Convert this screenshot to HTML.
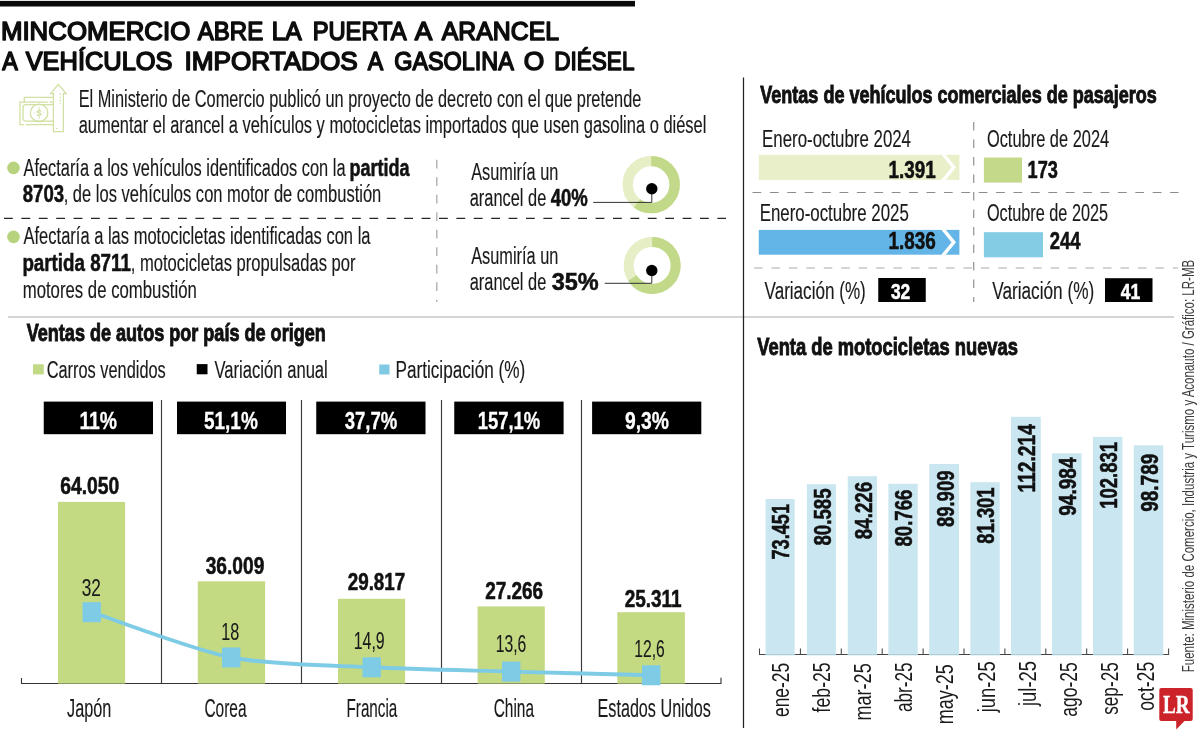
<!DOCTYPE html>
<html lang="es"><head><meta charset="utf-8"><title>Mincomercio abre la puerta a arancel</title>
<style>html,body{margin:0;padding:0;background:#fff}svg{display:block;will-change:transform;font-family:"Liberation Sans",sans-serif}</style></head>
<body>
<svg width="1200" height="737" viewBox="0 0 1200 737">
<rect width="1200" height="737" fill="#fff"/>
<rect x="0.00" y="0.90" width="635.00" height="5.60" fill="#0a0a0a"/>
<text x="0.96" y="40.00" font-size="26.52" font-weight="normal" fill="#0d0d0d" textLength="189.28" lengthAdjust="spacingAndGlyphs" stroke="#0d0d0d" stroke-width="1.6" stroke-linejoin="round" word-spacing="3.5">MINCOMERCIO</text>
<text x="197.80" y="40.00" font-size="26.52" font-weight="normal" fill="#0d0d0d" textLength="65.44" lengthAdjust="spacingAndGlyphs" stroke="#0d0d0d" stroke-width="1.6" stroke-linejoin="round" word-spacing="3.5">ABRE</text>
<text x="271.64" y="40.00" font-size="26.52" font-weight="normal" fill="#0d0d0d" textLength="30.12" lengthAdjust="spacingAndGlyphs" stroke="#0d0d0d" stroke-width="1.6" stroke-linejoin="round" word-spacing="3.5">LA</text>
<text x="312.64" y="40.00" font-size="26.52" font-weight="normal" fill="#0d0d0d" textLength="94.06" lengthAdjust="spacingAndGlyphs" stroke="#0d0d0d" stroke-width="1.6" stroke-linejoin="round" word-spacing="3.5">PUERTA</text>
<text x="414.68" y="40.00" font-size="26.52" font-weight="normal" fill="#0d0d0d" textLength="17.52" lengthAdjust="spacingAndGlyphs" stroke="#0d0d0d" stroke-width="1.6" stroke-linejoin="round" word-spacing="3.5">A</text>
<text x="441.80" y="40.00" font-size="26.52" font-weight="normal" fill="#0d0d0d" textLength="117.20" lengthAdjust="spacingAndGlyphs" stroke="#0d0d0d" stroke-width="1.6" stroke-linejoin="round" word-spacing="3.5">ARANCEL</text>
<text x="2.24" y="70.00" font-size="26.52" font-weight="normal" fill="#0d0d0d" textLength="15.52" lengthAdjust="spacingAndGlyphs" stroke="#0d0d0d" stroke-width="1.6" stroke-linejoin="round" word-spacing="3.5">A</text>
<text x="25.68" y="70.00" font-size="26.52" font-weight="normal" fill="#0d0d0d" textLength="146.88" lengthAdjust="spacingAndGlyphs" stroke="#0d0d0d" stroke-width="1.6" stroke-linejoin="round" word-spacing="3.5">VEHÍCULOS</text>
<text x="184.40" y="70.00" font-size="26.52" font-weight="normal" fill="#0d0d0d" textLength="173.40" lengthAdjust="spacingAndGlyphs" stroke="#0d0d0d" stroke-width="1.6" stroke-linejoin="round" word-spacing="3.5">IMPORTADOS</text>
<text x="367.80" y="70.00" font-size="26.52" font-weight="normal" fill="#0d0d0d" textLength="15.40" lengthAdjust="spacingAndGlyphs" stroke="#0d0d0d" stroke-width="1.6" stroke-linejoin="round" word-spacing="3.5">A</text>
<text x="394.20" y="70.00" font-size="26.52" font-weight="normal" fill="#0d0d0d" textLength="119.56" lengthAdjust="spacingAndGlyphs" stroke="#0d0d0d" stroke-width="1.6" stroke-linejoin="round" word-spacing="3.5">GASOLINA</text>
<text x="523.76" y="70.00" font-size="26.52" font-weight="normal" fill="#0d0d0d" textLength="20.48" lengthAdjust="spacingAndGlyphs" stroke="#0d0d0d" stroke-width="1.6" stroke-linejoin="round" word-spacing="3.5">O</text>
<text x="554.20" y="70.00" font-size="26.52" font-weight="normal" fill="#0d0d0d" textLength="80.24" lengthAdjust="spacingAndGlyphs" stroke="#0d0d0d" stroke-width="1.6" stroke-linejoin="round" word-spacing="3.5">DIÉSEL</text>
<g fill="none" stroke="#cfe0a1" stroke-width="1.25"><path d="M24.3 102 V97.3 H53.4"/><path d="M47.8 102 H20 V124.7 H23.8 M26.2 124.7 H53.4 M49.6 102 H53.4"/><path d="M53.4 104.7 H26 a3 3 0 0 0 -3 3 V118.2 a3 3 0 0 0 3 3 H53.4"/><circle cx="39.1" cy="112.9" r="8.7"/><path d="M53.4 131.6 V93.6 H50.7 L58.3 84.5 L66.2 93.6 H63.4 V131.6 Z"/><path d="M60.2 92.8 V104" stroke-dasharray="2.2 1.2" stroke-width="1"/><path d="M56 128.6 H57.6" stroke-width="1"/><path d="M39.1 107 V118.8" stroke-width="0.9"/><path d="M34.4 112.9 h0.9 M42.9 112.9 h0.9" stroke-width="0.9"/></g>
<text x="39.1" y="115.9" font-size="8.5" fill="#cfe0a1" text-anchor="middle" font-weight="bold">S</text>
<text x="78.70" y="107.00" font-size="23.91" font-weight="normal" fill="#1a1a1a" textLength="562.60" lengthAdjust="spacingAndGlyphs" stroke="#1a1a1a" stroke-width="0.15">El Ministerio de Comercio publicó un proyecto de decreto con el que pretende</text>
<text x="78.70" y="133.00" font-size="23.91" font-weight="normal" fill="#1a1a1a" textLength="627.72" lengthAdjust="spacingAndGlyphs" stroke="#1a1a1a" stroke-width="0.15">aumentar el arancel a vehículos y motocicletas importados que usen gasolina o diésel</text>
<circle cx="13.5" cy="167.9" r="6.3" fill="#b7d37e"/>
<text x="23.50" y="176.00" font-size="23.62" font-weight="normal" fill="#1a1a1a" textLength="322.00" lengthAdjust="spacingAndGlyphs" stroke="#1a1a1a" stroke-width="0.15">Afectaría a los vehículos identificados con la</text>
<text x="349.40" y="176.00" font-size="23.62" font-weight="bold" fill="#111" textLength="60.10" lengthAdjust="spacingAndGlyphs" stroke="#111" stroke-width="0.55">partida</text>
<text x="22.70" y="202.00" font-size="23.62" font-weight="bold" fill="#111" textLength="41.40" lengthAdjust="spacingAndGlyphs" stroke="#111" stroke-width="0.55">8703</text>
<text x="63.70" y="202.00" font-size="23.62" font-weight="normal" fill="#1a1a1a" textLength="317.60" lengthAdjust="spacingAndGlyphs" stroke="#1a1a1a" stroke-width="0.15">, de los vehículos con motor de combustión</text>
<circle cx="13.5" cy="236.9" r="6.3" fill="#b7d37e"/>
<text x="23.50" y="244.00" font-size="23.62" font-weight="normal" fill="#1a1a1a" textLength="347.00" lengthAdjust="spacingAndGlyphs" stroke="#1a1a1a" stroke-width="0.15">Afectaría a las motocicletas identificadas con la</text>
<text x="22.40" y="271.00" font-size="23.62" font-weight="bold" fill="#111" textLength="108.50" lengthAdjust="spacingAndGlyphs" stroke="#111" stroke-width="0.55">partida 8711</text>
<text x="130.70" y="271.00" font-size="23.62" font-weight="normal" fill="#1a1a1a" textLength="224.80" lengthAdjust="spacingAndGlyphs" stroke="#1a1a1a" stroke-width="0.15">, motocicletas propulsadas por</text>
<text x="22.70" y="298.00" font-size="23.62" font-weight="normal" fill="#1a1a1a" textLength="174.10" lengthAdjust="spacingAndGlyphs" stroke="#1a1a1a" stroke-width="0.15">motores de combustión</text>
<line x1="4.00" y1="218.40" x2="726.00" y2="218.40" stroke="#262626" stroke-width="1.1" stroke-dasharray="8.8 8.6" stroke-dashoffset="0"/>
<line x1="436.80" y1="159.80" x2="436.80" y2="302.00" stroke="#aaa" stroke-width="1.3" stroke-dasharray="8.7 8.8" stroke-dashoffset="0"/>
<text x="471.18" y="180.00" font-size="23.62" font-weight="normal" fill="#1a1a1a" textLength="87.12" lengthAdjust="spacingAndGlyphs" stroke="#1a1a1a" stroke-width="0.15">Asumiría un</text>
<text x="469.70" y="206.00" font-size="23.62" font-weight="normal" fill="#1a1a1a" textLength="76.60" lengthAdjust="spacingAndGlyphs" stroke="#1a1a1a" stroke-width="0.15">arancel de</text>
<text x="550.70" y="206.00" font-size="23.62" font-weight="bold" fill="#111" textLength="37.10" lengthAdjust="spacingAndGlyphs" stroke="#111" stroke-width="0.55">40%</text>
<text x="471.18" y="264.00" font-size="23.62" font-weight="normal" fill="#1a1a1a" textLength="87.12" lengthAdjust="spacingAndGlyphs" stroke="#1a1a1a" stroke-width="0.15">Asumiría un</text>
<text x="469.70" y="290.00" font-size="23.62" font-weight="normal" fill="#1a1a1a" textLength="76.60" lengthAdjust="spacingAndGlyphs" stroke="#1a1a1a" stroke-width="0.15">arancel de</text>
<text x="551.70" y="290.00" font-size="23.62" font-weight="bold" fill="#111" textLength="47.04" lengthAdjust="spacingAndGlyphs" stroke="#111" stroke-width="0.55">35%</text>
<circle cx="651.2" cy="184.6" r="23.5" fill="none" stroke="#e6eec6" stroke-width="10.399999999999999"/>
<circle cx="651.2" cy="184.6" r="23.5" fill="none" stroke="#c2d98a" stroke-width="10.399999999999999" stroke-dasharray="88.59 147.65" transform="rotate(-90 651.2 184.6)"/>
<circle cx="652.2" cy="265.4" r="23.5" fill="none" stroke="#e6eec6" stroke-width="10.0"/>
<circle cx="652.2" cy="265.4" r="23.5" fill="none" stroke="#c2d98a" stroke-width="10.0" stroke-dasharray="96.71 147.65" transform="rotate(-90 652.2 265.4)"/>
<path d="M593.2 202.4 H651.8 V188.8" fill="none" stroke="#333" stroke-width="1"/>
<circle cx="651.8" cy="188.8" r="5.7" fill="#000"/>
<path d="M604.8 283.3 H651.8 V270.5" fill="none" stroke="#333" stroke-width="1"/>
<circle cx="651.8" cy="270.5" r="5.7" fill="#000"/>
<line x1="8.00" y1="317.00" x2="1174.00" y2="317.00" stroke="#aaa" stroke-width="1.2"/>
<line x1="743.50" y1="77.50" x2="743.50" y2="728.00" stroke="#222" stroke-width="1.25"/>
<text x="760.32" y="103.00" font-size="23.91" font-weight="bold" fill="#111" textLength="396.48" lengthAdjust="spacingAndGlyphs" stroke="#111" stroke-width="0.95">Ventas de vehículos comerciales de pasajeros</text>
<text x="762.08" y="147.00" font-size="24.20" font-weight="normal" fill="#1a1a1a" textLength="148.92" lengthAdjust="spacingAndGlyphs" stroke="#1a1a1a" stroke-width="0.15">Enero-octubre 2024</text>
<text x="759.64" y="221.00" font-size="24.20" font-weight="normal" fill="#1a1a1a" textLength="149.16" lengthAdjust="spacingAndGlyphs" stroke="#1a1a1a" stroke-width="0.15">Enero-octubre 2025</text>
<text x="986.88" y="147.00" font-size="24.20" font-weight="normal" fill="#1a1a1a" textLength="122.30" lengthAdjust="spacingAndGlyphs" stroke="#1a1a1a" stroke-width="0.15">Octubre de 2024</text>
<text x="986.88" y="221.00" font-size="24.20" font-weight="normal" fill="#1a1a1a" textLength="121.24" lengthAdjust="spacingAndGlyphs" stroke="#1a1a1a" stroke-width="0.15">Octubre de 2025</text>
<rect x="758.75" y="154.80" width="200.65" height="25.10" fill="#e9efc9"/>
<path d="M942.8 153.8 L953.8 167.35 L942.8 180.9" fill="none" stroke="#fff" stroke-width="3.4"/>
<rect x="758.75" y="229.90" width="200.65" height="24.80" fill="#62b5e6"/>
<path d="M942.8 228.9 L953.8 242.3 L942.8 255.7" fill="none" stroke="#fff" stroke-width="3.4"/>
<text x="888.58" y="178.00" font-size="23.62" font-weight="bold" fill="#111" textLength="47.22" lengthAdjust="spacingAndGlyphs" stroke="#111" stroke-width="0.55">1.391</text>
<text x="888.46" y="249.00" font-size="23.62" font-weight="bold" fill="#111" textLength="47.40" lengthAdjust="spacingAndGlyphs" stroke="#111" stroke-width="0.55">1.836</text>
<rect x="983.90" y="157.50" width="38.10" height="25.10" fill="#c5d98b"/>
<rect x="983.90" y="232.20" width="59.10" height="25.10" fill="#84cbe4"/>
<text x="1027.58" y="178.00" font-size="23.62" font-weight="bold" fill="#111" textLength="30.34" lengthAdjust="spacingAndGlyphs" stroke="#111" stroke-width="0.55">173</text>
<text x="1049.76" y="249.00" font-size="23.62" font-weight="bold" fill="#111" textLength="30.74" lengthAdjust="spacingAndGlyphs" stroke="#111" stroke-width="0.55">244</text>
<line x1="752.50" y1="192.50" x2="1178.50" y2="192.50" stroke="#8c8c8c" stroke-width="1.0" stroke-dasharray="8.8 8.6" stroke-dashoffset="0"/>
<line x1="754.00" y1="268.00" x2="1178.00" y2="268.00" stroke="#c6c6c6" stroke-width="1.7" stroke-dasharray="8.5 8.95" stroke-dashoffset="0"/>
<line x1="973.70" y1="121.90" x2="973.70" y2="302.00" stroke="#999" stroke-width="1.3" stroke-dasharray="8.7 8.8" stroke-dashoffset="0"/>
<text x="764.50" y="299.00" font-size="23.62" font-weight="normal" fill="#1a1a1a" textLength="101.30" lengthAdjust="spacingAndGlyphs" stroke="#1a1a1a" stroke-width="0.15">Variación (%)</text>
<rect x="878.25" y="278.00" width="47.50" height="24.00" fill="#000"/>
<text x="890.95" y="299.00" font-size="22.90" font-weight="bold" fill="#fff" textLength="19.35" lengthAdjust="spacingAndGlyphs" stroke="#fff" stroke-width="0.55">32</text>
<text x="992.20" y="299.00" font-size="23.62" font-weight="normal" fill="#1a1a1a" textLength="102.04" lengthAdjust="spacingAndGlyphs" stroke="#1a1a1a" stroke-width="0.15">Variación (%)</text>
<rect x="1105.00" y="278.20" width="47.50" height="23.80" fill="#000"/>
<text x="1120.82" y="299.00" font-size="22.90" font-weight="bold" fill="#fff" textLength="19.48" lengthAdjust="spacingAndGlyphs" stroke="#fff" stroke-width="0.55">41</text>
<text x="1193.90" y="672.24" transform="rotate(-90 1193.90 672.24)" font-size="16.23" font-weight="normal" fill="#3a3a3a" textLength="412.42" lengthAdjust="spacingAndGlyphs">Fuente: Ministerio de Comercio, Industria y Turismo y Aconauto / Gráfico: LR-MB</text>
<text x="26.70" y="341.00" font-size="23.62" font-weight="bold" fill="#111" textLength="299.10" lengthAdjust="spacingAndGlyphs" stroke="#111" stroke-width="0.95">Ventas de autos por país de origen</text>
<rect x="33.00" y="364.30" width="10.75" height="10.10" fill="#c1d884"/>
<text x="46.70" y="378.00" font-size="23.62" font-weight="normal" fill="#1a1a1a" textLength="119.10" lengthAdjust="spacingAndGlyphs" stroke="#1a1a1a" stroke-width="0.15">Carros vendidos</text>
<rect x="196.75" y="364.10" width="10.75" height="10.20" fill="#000"/>
<text x="214.50" y="378.00" font-size="23.62" font-weight="normal" fill="#1a1a1a" textLength="113.30" lengthAdjust="spacingAndGlyphs" stroke="#1a1a1a" stroke-width="0.15">Variación anual</text>
<rect x="379.25" y="364.50" width="10.25" height="10.00" fill="#7fc9e3"/>
<text x="395.45" y="378.00" font-size="23.62" font-weight="normal" fill="#1a1a1a" textLength="129.85" lengthAdjust="spacingAndGlyphs" stroke="#1a1a1a" stroke-width="0.15">Participación (%)</text>
<rect x="43.75" y="401.60" width="109.25" height="32.60" fill="#000"/>
<text x="79.40" y="429.00" font-size="23.91" font-weight="bold" fill="#fff" textLength="37.65" lengthAdjust="spacingAndGlyphs" stroke="#fff" stroke-width="0.3">11%</text>
<rect x="177.00" y="401.60" width="109.00" height="32.60" fill="#000"/>
<text x="203.90" y="429.00" font-size="23.91" font-weight="bold" fill="#fff" textLength="53.90" lengthAdjust="spacingAndGlyphs" stroke="#fff" stroke-width="0.3">51,1%</text>
<rect x="316.25" y="401.60" width="109.25" height="32.60" fill="#000"/>
<text x="344.70" y="429.00" font-size="23.91" font-weight="bold" fill="#fff" textLength="52.60" lengthAdjust="spacingAndGlyphs" stroke="#fff" stroke-width="0.3">37,7%</text>
<rect x="454.25" y="401.60" width="109.35" height="32.60" fill="#000"/>
<text x="477.65" y="429.00" font-size="23.91" font-weight="bold" fill="#fff" textLength="62.65" lengthAdjust="spacingAndGlyphs" stroke="#fff" stroke-width="0.3">157,1%</text>
<rect x="592.10" y="401.60" width="109.20" height="32.60" fill="#000"/>
<text x="625.02" y="429.00" font-size="23.91" font-weight="bold" fill="#fff" textLength="44.02" lengthAdjust="spacingAndGlyphs" stroke="#fff" stroke-width="0.3">9,3%</text>
<line x1="161.50" y1="399.90" x2="161.50" y2="683.50" stroke="#3a3a3a" stroke-width="1.15"/>
<line x1="301.50" y1="399.90" x2="301.50" y2="683.50" stroke="#3a3a3a" stroke-width="1.15"/>
<line x1="441.50" y1="399.90" x2="441.50" y2="683.50" stroke="#3a3a3a" stroke-width="1.15"/>
<line x1="581.50" y1="399.90" x2="581.50" y2="683.50" stroke="#3a3a3a" stroke-width="1.15"/>
<path d="M21.5 677.9 V683.45 H721 V677.8" fill="none" stroke="#333" stroke-width="1.1"/>
<rect x="58.00" y="501.90" width="67.10" height="181.70" fill="#c3d982"/>
<rect x="197.80" y="581.30" width="67.30" height="102.30" fill="#c3d982"/>
<rect x="338.00" y="598.80" width="67.10" height="84.80" fill="#c3d982"/>
<rect x="477.60" y="606.40" width="67.20" height="77.20" fill="#c3d982"/>
<rect x="617.30" y="612.20" width="67.60" height="71.40" fill="#c3d982"/>
<path d="M91.7 612.2 C110.3 618.2 193.9 650.2 231.2 657.5 C268.5 664.8 334.4 665.4 371.7 667.3 C409.0 669.2 473.9 670.5 511.2 671.6 C548.5 672.7 632.5 674.8 651.2 675.3" fill="none" stroke="#7ecbe6" stroke-width="3.9"/>
<rect x="82.50" y="602.20" width="18.40" height="20.00" fill="#7ecbe6"/>
<rect x="222.00" y="647.50" width="18.40" height="20.00" fill="#7ecbe6"/>
<rect x="362.50" y="657.30" width="18.40" height="20.00" fill="#7ecbe6"/>
<rect x="502.00" y="661.60" width="18.40" height="20.00" fill="#7ecbe6"/>
<rect x="642.00" y="665.30" width="18.40" height="20.00" fill="#7ecbe6"/>
<text x="60.14" y="494.00" font-size="24.06" font-weight="bold" fill="#111" textLength="59.16" lengthAdjust="spacingAndGlyphs" stroke="#111" stroke-width="0.55">64.050</text>
<text x="205.70" y="574.00" font-size="24.06" font-weight="bold" fill="#111" textLength="58.60" lengthAdjust="spacingAndGlyphs" stroke="#111" stroke-width="0.55">36.009</text>
<text x="347.70" y="590.00" font-size="24.06" font-weight="bold" fill="#111" textLength="57.60" lengthAdjust="spacingAndGlyphs" stroke="#111" stroke-width="0.55">29.817</text>
<text x="485.14" y="599.00" font-size="24.06" font-weight="bold" fill="#111" textLength="58.04" lengthAdjust="spacingAndGlyphs" stroke="#111" stroke-width="0.55">27.266</text>
<text x="624.70" y="607.00" font-size="24.06" font-weight="bold" fill="#111" textLength="56.98" lengthAdjust="spacingAndGlyphs" stroke="#111" stroke-width="0.55">25.311</text>
<text x="81.64" y="596.00" font-size="23.91" font-weight="normal" fill="#1a1a1a" textLength="19.16" lengthAdjust="spacingAndGlyphs" stroke="#1a1a1a" stroke-width="0.1">32</text>
<text x="221.20" y="640.00" font-size="23.91" font-weight="normal" fill="#1a1a1a" textLength="18.04" lengthAdjust="spacingAndGlyphs" stroke="#1a1a1a" stroke-width="0.1">18</text>
<text x="353.70" y="649.00" font-size="23.91" font-weight="normal" fill="#1a1a1a" textLength="30.98" lengthAdjust="spacingAndGlyphs" stroke="#1a1a1a" stroke-width="0.1">14,9</text>
<text x="495.70" y="652.00" font-size="23.91" font-weight="normal" fill="#1a1a1a" textLength="30.54" lengthAdjust="spacingAndGlyphs" stroke="#1a1a1a" stroke-width="0.1">13,6</text>
<text x="634.20" y="657.00" font-size="23.91" font-weight="normal" fill="#1a1a1a" textLength="30.60" lengthAdjust="spacingAndGlyphs" stroke="#1a1a1a" stroke-width="0.1">12,6</text>
<text x="67.00" y="717.00" font-size="26.09" font-weight="normal" fill="#1a1a1a" textLength="44.30" lengthAdjust="spacingAndGlyphs" stroke="#1a1a1a" stroke-width="0.15">Japón</text>
<text x="204.38" y="717.00" font-size="26.09" font-weight="normal" fill="#1a1a1a" textLength="42.18" lengthAdjust="spacingAndGlyphs" stroke="#1a1a1a" stroke-width="0.15">Corea</text>
<text x="346.52" y="717.00" font-size="26.09" font-weight="normal" fill="#1a1a1a" textLength="50.80" lengthAdjust="spacingAndGlyphs" stroke="#1a1a1a" stroke-width="0.15">Francia</text>
<text x="493.70" y="717.00" font-size="26.09" font-weight="normal" fill="#1a1a1a" textLength="40.30" lengthAdjust="spacingAndGlyphs" stroke="#1a1a1a" stroke-width="0.15">China</text>
<text x="597.52" y="717.00" font-size="26.09" font-weight="normal" fill="#1a1a1a" textLength="113.28" lengthAdjust="spacingAndGlyphs" stroke="#1a1a1a" stroke-width="0.15">Estados Unidos</text>
<text x="757.26" y="355.00" font-size="23.62" font-weight="bold" fill="#111" textLength="260.66" lengthAdjust="spacingAndGlyphs" stroke="#111" stroke-width="0.95">Venta de motocicletas nuevas</text>
<path d="M759.5 648.4 V654.5 H1168.6 V648.4 M800.4 648.4 V654.5 M841.3 648.4 V654.5 M882.2 648.4 V654.5 M923.1 648.4 V654.5 M964.0 648.4 V654.5 M1004.9 648.4 V654.5 M1045.8 648.4 V654.5 M1086.7 648.4 V654.5 M1127.6 648.4 V654.5" fill="none" stroke="#444" stroke-width="1.05"/>
<rect x="765.60" y="499.00" width="29.10" height="156.30" fill="#c9e6f1"/>
<line x1="765.60" y1="654.60" x2="794.70" y2="654.60" stroke="#a9c6d2" stroke-width="0.9"/>
<rect x="806.90" y="484.20" width="29.00" height="171.10" fill="#c9e6f1"/>
<line x1="806.90" y1="654.60" x2="835.90" y2="654.60" stroke="#a9c6d2" stroke-width="0.9"/>
<rect x="847.70" y="476.20" width="29.30" height="179.10" fill="#c9e6f1"/>
<line x1="847.70" y1="654.60" x2="877.00" y2="654.60" stroke="#a9c6d2" stroke-width="0.9"/>
<rect x="888.40" y="483.80" width="29.30" height="171.50" fill="#c9e6f1"/>
<line x1="888.40" y1="654.60" x2="917.70" y2="654.60" stroke="#a9c6d2" stroke-width="0.9"/>
<rect x="929.20" y="464.00" width="29.80" height="191.30" fill="#c9e6f1"/>
<line x1="929.20" y1="654.60" x2="959.00" y2="654.60" stroke="#a9c6d2" stroke-width="0.9"/>
<rect x="970.40" y="482.20" width="29.30" height="173.10" fill="#c9e6f1"/>
<line x1="970.40" y1="654.60" x2="999.70" y2="654.60" stroke="#a9c6d2" stroke-width="0.9"/>
<rect x="1011.00" y="416.80" width="29.80" height="238.50" fill="#c9e6f1"/>
<line x1="1011.00" y1="654.60" x2="1040.80" y2="654.60" stroke="#a9c6d2" stroke-width="0.9"/>
<rect x="1052.00" y="453.30" width="29.60" height="202.00" fill="#c9e6f1"/>
<line x1="1052.00" y1="654.60" x2="1081.60" y2="654.60" stroke="#a9c6d2" stroke-width="0.9"/>
<rect x="1093.10" y="436.90" width="29.30" height="218.40" fill="#c9e6f1"/>
<line x1="1093.10" y1="654.60" x2="1122.40" y2="654.60" stroke="#a9c6d2" stroke-width="0.9"/>
<rect x="1133.80" y="445.30" width="29.40" height="210.00" fill="#c9e6f1"/>
<line x1="1133.80" y1="654.60" x2="1163.20" y2="654.60" stroke="#a9c6d2" stroke-width="0.9"/>
<text x="789.40" y="559.56" transform="rotate(-90 789.40 559.56)" font-size="23.91" font-weight="bold" fill="#111" textLength="55.62" lengthAdjust="spacingAndGlyphs" stroke="#111" stroke-width="0.55">73.451</text>
<text x="830.60" y="545.62" transform="rotate(-90 830.60 545.62)" font-size="23.91" font-weight="bold" fill="#111" textLength="57.36" lengthAdjust="spacingAndGlyphs" stroke="#111" stroke-width="0.55">80.585</text>
<text x="871.70" y="539.12" transform="rotate(-90 871.70 539.12)" font-size="23.91" font-weight="bold" fill="#111" textLength="57.30" lengthAdjust="spacingAndGlyphs" stroke="#111" stroke-width="0.55">84.226</text>
<text x="912.40" y="546.56" transform="rotate(-90 912.40 546.56)" font-size="23.91" font-weight="bold" fill="#111" textLength="57.06" lengthAdjust="spacingAndGlyphs" stroke="#111" stroke-width="0.55">80.766</text>
<text x="953.70" y="527.06" transform="rotate(-90 953.70 527.06)" font-size="23.91" font-weight="bold" fill="#111" textLength="56.50" lengthAdjust="spacingAndGlyphs" stroke="#111" stroke-width="0.55">89.909</text>
<text x="994.40" y="543.62" transform="rotate(-90 994.40 543.62)" font-size="23.91" font-weight="bold" fill="#111" textLength="56.12" lengthAdjust="spacingAndGlyphs" stroke="#111" stroke-width="0.55">81.301</text>
<text x="1035.50" y="492.48" transform="rotate(-90 1035.50 492.48)" font-size="23.91" font-weight="bold" fill="#111" textLength="68.42" lengthAdjust="spacingAndGlyphs" stroke="#111" stroke-width="0.55">112.214</text>
<text x="1076.30" y="515.74" transform="rotate(-90 1076.30 515.74)" font-size="23.91" font-weight="bold" fill="#111" textLength="58.24" lengthAdjust="spacingAndGlyphs" stroke="#111" stroke-width="0.55">94.984</text>
<text x="1117.10" y="508.86" transform="rotate(-90 1117.10 508.86)" font-size="23.91" font-weight="bold" fill="#111" textLength="67.04" lengthAdjust="spacingAndGlyphs" stroke="#111" stroke-width="0.55">102.831</text>
<text x="1157.90" y="511.68" transform="rotate(-90 1157.90 511.68)" font-size="23.91" font-weight="bold" fill="#111" textLength="57.86" lengthAdjust="spacingAndGlyphs" stroke="#111" stroke-width="0.55">98.789</text>
<text x="788.60" y="717.06" transform="rotate(-90 788.60 717.06)" font-size="24.64" font-weight="normal" fill="#1a1a1a" textLength="54.30" lengthAdjust="spacingAndGlyphs">ene-25</text>
<text x="829.80" y="712.44" transform="rotate(-90 829.80 712.44)" font-size="24.64" font-weight="normal" fill="#1a1a1a" textLength="50.12" lengthAdjust="spacingAndGlyphs">feb-25</text>
<text x="871.00" y="720.54" transform="rotate(-90 871.00 720.54)" font-size="24.64" font-weight="normal" fill="#1a1a1a" textLength="57.22" lengthAdjust="spacingAndGlyphs">mar-25</text>
<text x="912.20" y="712.06" transform="rotate(-90 912.20 712.06)" font-size="24.64" font-weight="normal" fill="#1a1a1a" textLength="49.74" lengthAdjust="spacingAndGlyphs">abr-25</text>
<text x="953.40" y="724.36" transform="rotate(-90 953.40 724.36)" font-size="24.64" font-weight="normal" fill="#1a1a1a" textLength="60.10" lengthAdjust="spacingAndGlyphs">may-25</text>
<text x="994.60" y="712.36" transform="rotate(-90 994.60 712.36)" font-size="24.64" font-weight="normal" fill="#1a1a1a" textLength="51.04" lengthAdjust="spacingAndGlyphs">jun-25</text>
<text x="1035.80" y="706.04" transform="rotate(-90 1035.80 706.04)" font-size="24.64" font-weight="normal" fill="#1a1a1a" textLength="45.16" lengthAdjust="spacingAndGlyphs">jul-25</text>
<text x="1077.00" y="716.68" transform="rotate(-90 1077.00 716.68)" font-size="24.64" font-weight="normal" fill="#1a1a1a" textLength="54.48" lengthAdjust="spacingAndGlyphs">ago-25</text>
<text x="1118.20" y="714.80" transform="rotate(-90 1118.20 714.80)" font-size="24.64" font-weight="normal" fill="#1a1a1a" textLength="52.60" lengthAdjust="spacingAndGlyphs">sep-25</text>
<text x="1153.90" y="710.68" transform="rotate(-90 1153.90 710.68)" font-size="24.64" font-weight="normal" fill="#1a1a1a" textLength="48.86" lengthAdjust="spacingAndGlyphs">oct-25</text>
<path d="M1161.3 688 H1190.7 a2 2 0 0 1 2 2 V718.9 a2 2 0 0 1 -2 2 H1184.5 L1176.2 729.6 V720.9 H1161.3 a2 2 0 0 1 -2 -2 V690 a2 2 0 0 1 2 -2 Z" fill="#cc2229"/>
<text x="1162.9" y="712.6" font-family="Liberation Serif" font-weight="bold" font-size="24.6" fill="#fff" stroke="#fff" stroke-width="0.4" textLength="26.6" lengthAdjust="spacingAndGlyphs">LR</text>
</svg>
</body></html>
